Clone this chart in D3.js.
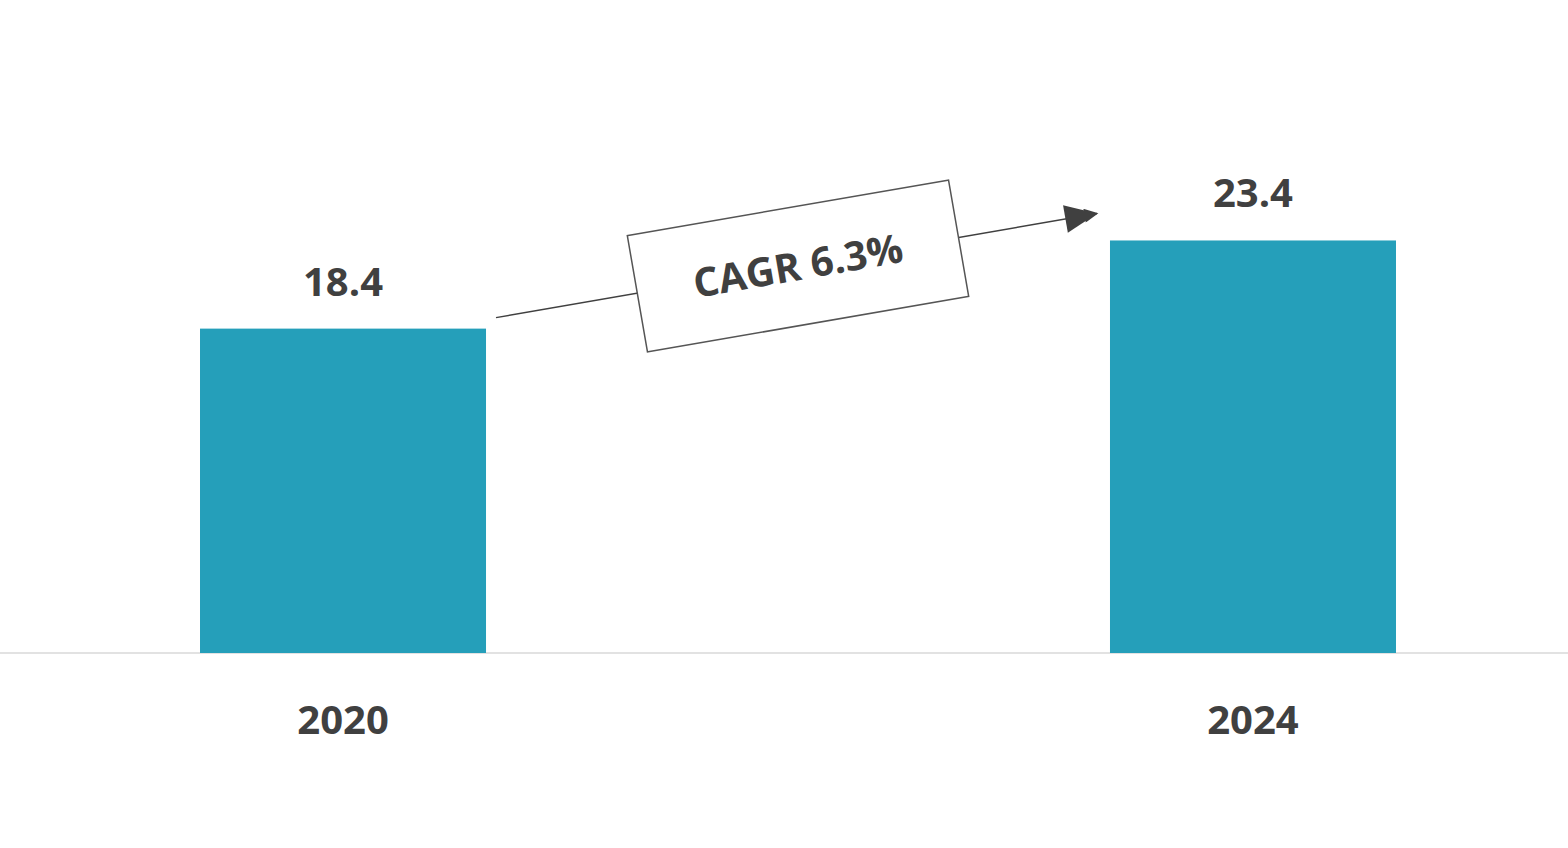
<!DOCTYPE html>
<html><head><meta charset="utf-8">
<script src="https://cdn.jsdelivr.net/npm/d3@7"></script>
<style>body{margin:0;background:#fff}svg{display:block}</style>
</head><body>
<div id="chart"></div>
<script>
const years = ["2020", "2024"];
const values = [18.4, 23.4];
const cagrLabel = "CAGR 6.3%";

const width = 1568, height = 848, baseY = 653;
const font = "'Open Sans', 'Noto Sans', sans-serif";
const textColor = "#404040";

const svg = d3.select("#chart").append("svg")
    .attr("width", width).attr("height", height);

const x = d3.scaleBand().domain(years).range([0, 1596])
    .paddingInner(0.6857).paddingOuter(0.2198);
const y = d3.scaleLinear().domain([0, 37.04]).range([baseY, 0]);

svg.append("line")
    .attr("x1", 0).attr("x2", width).attr("y1", baseY).attr("y2", baseY)
    .attr("stroke", "#d9d9d9").attr("stroke-width", 1.5);

svg.selectAll("rect.bar").data(years).enter().append("rect")
    .attr("class", "bar")
    .attr("x", d => x(d)).attr("width", x.bandwidth())
    .attr("y", (d, i) => y(values[i]))
    .attr("height", (d, i) => baseY - y(values[i]))
    .attr("fill", "#259fba");

svg.selectAll("text.val").data(years).enter().append("text")
    .attr("x", d => x(d) + x.bandwidth() / 2)
    .attr("y", (d, i) => y(values[i]) - 33)
    .attr("text-anchor", "middle").attr("font-family", font)
    .attr("font-weight", 700).attr("font-size", 40).attr("fill", textColor)
    .text((d, i) => values[i]);

svg.selectAll("text.year").data(years).enter().append("text")
    .attr("x", d => x(d) + x.bandwidth() / 2).attr("y", 734)
    .attr("text-anchor", "middle").attr("font-family", font)
    .attr("font-weight", 700).attr("font-size", 40).attr("fill", textColor)
    .text(d => d);

// CAGR arrow
const x0 = x(years[0]) + x.bandwidth() + 10, y0 = y(values[0]) - 11;
const x1 = x(years[1]) - 13, y1 = y(values[1]) - 27;
svg.append("defs").append("marker")
    .attr("id", "arr").attr("viewBox", "0 0 10 10").attr("refX", 9).attr("refY", 5)
    .attr("markerWidth", 16).attr("markerHeight", 14).attr("markerUnits", "userSpaceOnUse")
    .attr("orient", "auto")
    .append("path").attr("d", "M0,0L10,5L0,10Z").attr("fill", "#404040");
svg.append("line")
    .attr("x1", x0).attr("y1", y0).attr("x2", x1).attr("y2", y1)
    .attr("stroke", "#404040").attr("stroke-width", 1.5)
    .attr("marker-end", "url(#arr)")
    .attr("transform", null);
// bigger arrowhead
const ang = Math.atan2(y1 - y0, x1 - x0) * 180 / Math.PI;
svg.append("path").attr("d", "M0,0L-32,-14L-32,14Z").attr("fill", "#404040")
    .attr("transform", `translate(${x1},${y1}) rotate(${ang})`);

const g = svg.append("g").attr("transform", `translate(798,266) rotate(${ang})`);
g.append("rect").attr("x", -163).attr("y", -59).attr("width", 326).attr("height", 118)
    .attr("fill", "#fff").attr("stroke", "#555").attr("stroke-width", 1.5);
g.append("text").attr("y", 14).attr("text-anchor", "middle").attr("font-family", font)
    .attr("font-weight", 700).attr("font-size", 40).attr("fill", textColor)
    .text(cagrLabel);
</script>
</body></html>
